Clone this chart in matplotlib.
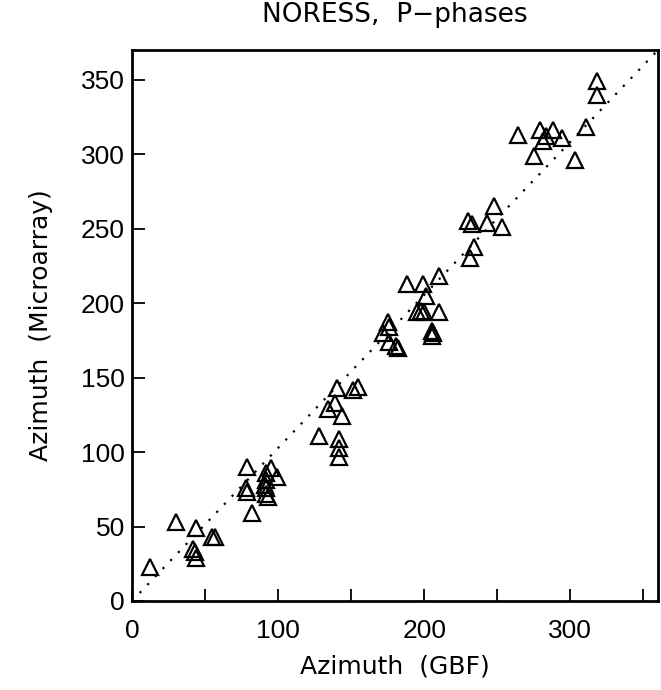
import matplotlib
matplotlib.use('Agg')
import matplotlib.pyplot as plt

# Azimuth estimates (degrees)
azimuth_gbf = [12, 30, 44, 42, 43, 44, 55, 57,
               79, 78, 79, 82, 95, 99, 92, 92, 92, 92, 93, 91,
               128, 134, 139, 140, 144, 142, 142, 142, 151, 155,
               172, 176, 175, 176, 181, 182,
               188, 199, 201, 195, 198, 200, 210, 205, 205, 206,
               210, 231, 234, 230, 233, 243, 248, 253,
               264, 275, 279, 288, 283, 281, 294, 303, 311, 318, 318]
azimuth_micro = [23, 53, 49, 35, 33, 29, 43, 43,
                 90, 76, 73, 59, 89, 83, 86, 81, 76, 72, 70, 78,
                 111, 129, 133, 143, 124, 109, 103, 97, 142, 144,
                 180, 184, 187, 174, 171, 170,
                 213, 213, 205, 194, 195, 194, 194, 181, 178, 180,
                 218, 230, 238, 255, 253, 254, 265, 251,
                 313, 299, 316, 316, 312, 309, 311, 296, 318, 349, 340]

x_ticks = [0, 50, 100, 150, 200, 250, 300, 350]
x_tick_labels = ['0', '', '100', '', '200', '', '300', '']
y_ticks = [0, 50, 100, 150, 200, 250, 300, 350]

plt.rcParams['font.family'] = ['Liberation Sans', 'DejaVu Sans']
label_font = ['DejaVu Sans']

fig = plt.figure(figsize=(6.61, 6.90), dpi=100)
ax = fig.add_axes([0.1997, 0.129, 0.7958, 0.7986])

# 1:1 reference line
ax.plot([0, 1], [0, 1], transform=ax.transAxes, color='black',
        linestyle=(0, (1, 4)), linewidth=1.6)

ax.plot(azimuth_gbf, azimuth_micro, linestyle='none', marker='^',
        markersize=11, markerfacecolor='none', markeredgecolor='black',
        markeredgewidth=1.6)

ax.set_xlim(0, 360)
ax.set_ylim(0, 370)
ax.set_xticks(x_ticks)
ax.set_xticklabels(x_tick_labels)
ax.set_yticks(y_ticks)

ax.tick_params(axis='both', direction='in', length=9, width=1.3,
               labelsize=19, top=False, right=False)
ax.tick_params(axis='x', pad=13)
ax.tick_params(axis='y', pad=5)

for sp in ax.spines.values():
    sp.set_linewidth(2)

ax.set_xlabel('Azimuth  (GBF)', fontsize=18, labelpad=8, family=label_font)
ax.set_ylabel('Azimuth  (Microarray)', fontsize=18, labelpad=20, family=label_font)
ax.set_title('NORESS,  P\u2212phases', fontsize=19, pad=20, family=label_font)

fig.savefig('out.png', dpi=100)
